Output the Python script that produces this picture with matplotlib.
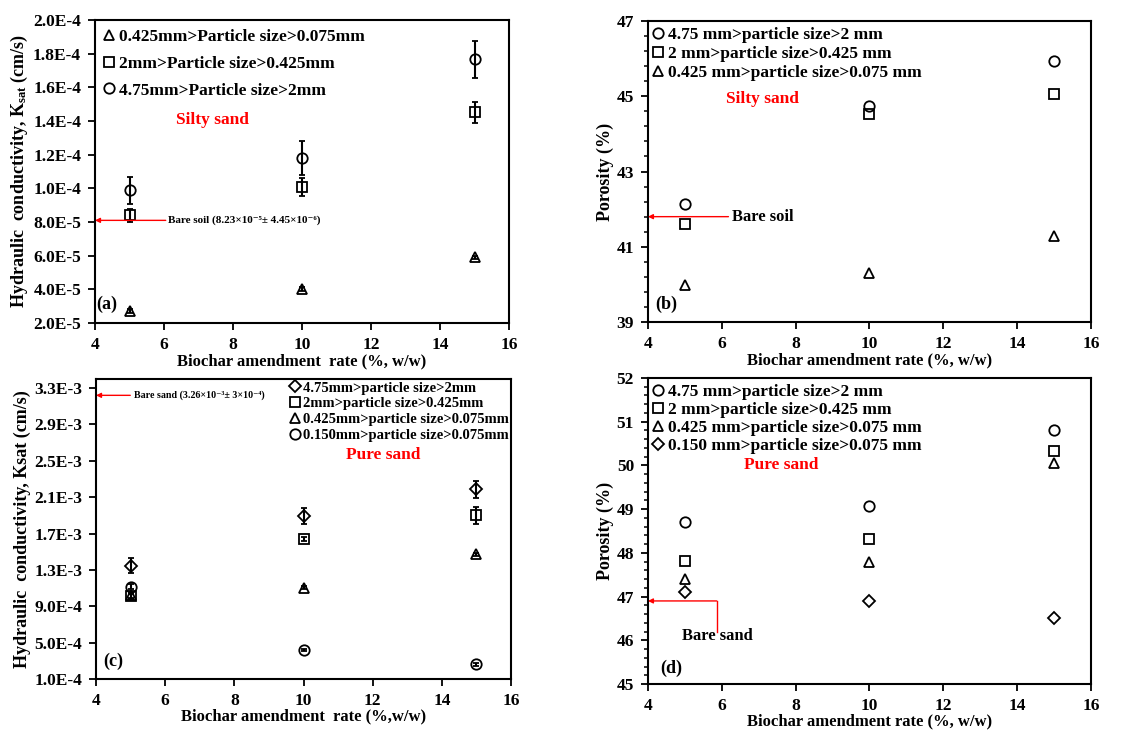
import matplotlib
matplotlib.use("Agg")
import matplotlib.pyplot as plt
from matplotlib.ticker import MultipleLocator, FixedLocator, FuncFormatter

plt.rcParams["font.family"] = ["Liberation Serif", "DejaVu Serif"]
plt.rcParams["font.weight"] = "bold"
plt.rcParams["mathtext.fontset"] = "custom"
plt.rcParams["mathtext.rm"] = "Liberation Serif:bold"
plt.rcParams["mathtext.bf"] = "Liberation Serif:bold"
plt.rcParams["mathtext.it"] = "Liberation Serif:bold"

# ---------- data ----------
rate = [5, 10, 15]

# (a) silty sand Ksat (cm/s)
a_labels = ["0.425mm>Particle size>0.075mm",
            "2mm>Particle size>0.425mm",
            "4.75mm>Particle size>2mm"]
a_tri = [2.71e-5, 4.02e-5, 5.90e-5]
a_tri_err = [1.0e-6, 1.0e-6, 1.0e-6]
a_sq = [8.40e-5, 1.007e-4, 1.451e-4]
a_sq_err = [4.0e-6, 5.5e-6, 6.0e-6]
a_circ = [9.89e-5, 1.181e-4, 1.768e-4]
a_circ_err = [8.0e-6, 1.0e-5, 1.1e-5]
a_bare = 8.1e-5

# (b) silty sand porosity (%)
b_labels = ["4.75 mm>particle size>2 mm",
            "2 mm>particle size>0.425 mm",
            "0.425 mm>particle size>0.075 mm"]
b_circ = [42.14, 44.74, 45.94]
b_sq = [41.61, 44.52, 45.05]
b_tri = [39.98, 40.29, 41.29]
b_bare = 41.8

# (c) pure sand Ksat (cm/s)
c_labels = ["4.75mm>particle size>2mm",
            "2mm>particle size>0.425mm",
            "0.425mm>particle size>0.075mm",
            "0.150mm>particle size>0.075mm"]
c_dia = [1.346e-3, 1.889e-3, 2.186e-3]
c_dia_err = [8.0e-5, 8.8e-5, 9.5e-5]
c_sq = [1.009e-3, 1.643e-3, 1.900e-3]
c_sq_err = [3.0e-5, 2.0e-5, 9.5e-5]
c_tri = [1.02e-3, 1.105e-3, 1.471e-3]
c_tri_err = [3.0e-5, 2.0e-5, 2.0e-5]
c_circ = [1.116e-3, 4.19e-4, 2.61e-4]
c_circ_err = [3.0e-5, 1.5e-5, 1.5e-5]
c_bare = 3.22e-3

# (d) pure sand porosity (%)
d_labels = ["4.75 mm>particle size>2 mm",
            "2 mm>particle size>0.425 mm",
            "0.425 mm>particle size>0.075 mm",
            "0.150 mm>particle size>0.075 mm"]
d_circ = [48.71, 49.07, 50.81]
d_sq = [47.81, 48.31, 50.33]
d_tri = [47.40, 47.80, 50.06]
d_dia = [47.11, 46.90, 46.51]
d_bare = 46.9

MK = dict(mfc="none", mec="black", mew=1.3, ls="none", zorder=3)
SIZE = {"o": 7.5, "s": 7.5, "^": 7.5, "D": 6.3}
EB = dict(fmt="none", ecolor="black", elinewidth=1.5, capsize=2.5,
          capthick=1.3, zorder=2)
FS = 12.5


def excel_e(v, pos):
    s = f"{v:.1E}"
    mant, exp = s.split("E")
    return f"{mant}E{int(exp)}"


def series(ax, y, marker, label, err=None):
    if err is not None:
        ax.errorbar(rate, y, yerr=err, **EB)
    ax.plot(rate, y, marker=marker, ms=SIZE[marker], label=label, **MK)


def style_axes(ax, xlabel, ylabel):
    ax.set_xlim(4, 16)
    ax.xaxis.set_major_locator(MultipleLocator(2))
    for sp in ax.spines.values():
        sp.set_linewidth(1.5)
    ax.tick_params(which="major", direction="out", length=5, width=1.3,
                   labelsize=FS, pad=5)
    ax.tick_params(which="minor", direction="out", length=3, width=1.1)
    ax.set_xlabel(xlabel, fontsize=12, fontweight="bold", labelpad=0)
    ax.set_ylabel(ylabel, fontsize=13, fontweight="bold", labelpad=2)


def legend(ax, x, y, size, spacing, pad=0.25):
    ax.legend(loc="upper left", bbox_to_anchor=(x, y), frameon=False,
              borderaxespad=0, borderpad=0, handlelength=0.6,
              handletextpad=pad, labelspacing=spacing,
              prop=dict(size=size, weight="bold"))


def red_arrow(ax, x0, x1, y):
    ax.annotate("", xy=(x1, y), xytext=(x0, y),
                arrowprops=dict(arrowstyle="-|>", color="red", lw=1.0,
                                mutation_scale=7, shrinkA=0, shrinkB=0))


def tag(ax, x, y, s):
    ax.text(x, y, s, fontsize=13, fontweight="bold", ha="center", va="center")


def red_text(ax, x, y, s):
    ax.text(x, y, s, color="red", fontsize=FS, fontweight="bold",
            ha="center", va="center")


fig = plt.figure(figsize=(11.46, 7.35), dpi=100)

# ---------- (a) ----------
ax = fig.add_axes([0.0829, 0.5605, 0.3613, 0.4122])
series(ax, a_tri, "^", a_labels[0], a_tri_err)
series(ax, a_sq, "s", a_labels[1], a_sq_err)
series(ax, a_circ, "o", a_labels[2], a_circ_err)
ax.set_ylim(2e-5, 2e-4)
ax.yaxis.set_major_locator(MultipleLocator(2e-5))
ax.yaxis.set_major_formatter(FuncFormatter(excel_e))
style_axes(ax, "Biochar amendment  rate (%, w/w)",
           r"Hydraulic  conductivity, K$_{sat}$ (cm/s)")
legend(ax, 0.022, 0.972, FS, 0.62)
red_arrow(ax, 6.05, 4.0, a_bare)
ax.text(6.13, a_bare, "Bare soil (8.23×10⁻⁵± 4.45×10⁻⁶)", fontsize=8,
        fontweight="bold", va="center", ha="left")
red_text(ax, 7.4, 1.405e-4, "Silty sand")
tag(ax, 4.35, 3.09e-5, "(a)")

# ---------- (b) ----------
ax = fig.add_axes([0.5654, 0.5619, 0.3866, 0.4095])
series(ax, b_circ, "o", b_labels[0])
series(ax, b_sq, "s", b_labels[1])
series(ax, b_tri, "^", b_labels[2])
ax.set_ylim(39, 47)
ax.yaxis.set_major_locator(FixedLocator([39, 41, 43, 45, 47]))
ax.yaxis.set_minor_locator(FixedLocator([39 + 0.4 * i for i in range(21)]))
style_axes(ax, "Biochar amendment rate (%, w/w)", "Porosity (%)")
legend(ax, 0.012, 0.98, FS, 0.15)
red_arrow(ax, 6.18, 4.0, b_bare)
ax.text(6.27, b_bare, "Bare soil", fontsize=12, fontweight="bold",
        va="center", ha="left")
red_text(ax, 7.09, 44.93, "Silty sand")
tag(ax, 4.5, 39.48, "(b)")

# ---------- (c) ----------
ax = fig.add_axes([0.0838, 0.0762, 0.3621, 0.4082])
series(ax, c_dia, "D", c_labels[0], c_dia_err)
series(ax, c_sq, "s", c_labels[1], c_sq_err)
series(ax, c_tri, "^", c_labels[2], c_tri_err)
series(ax, c_circ, "o", c_labels[3], c_circ_err)
ax.set_ylim(1e-4, 3.4e-3)
ax.yaxis.set_major_locator(FixedLocator([1e-4 + 4e-4 * i for i in range(9)]))
ax.yaxis.set_major_formatter(FuncFormatter(excel_e))
style_axes(ax, "Biochar amendment  rate (%,w/w)",
           "Hydraulic  conductivity, Ksat (cm/s)")
legend(ax, 0.47, 0.992, 10.5, 0.18, pad=0.2)
red_arrow(ax, 4.99, 4.0, c_bare)
ax.text(5.09, c_bare, "Bare sand (3.26×10⁻³± 3×10⁻⁴)", fontsize=7.2,
        fontweight="bold", va="center", ha="left")
red_text(ax, 12.3, 2.564e-3, "Pure sand")
tag(ax, 4.49, 2.98e-4, "(c)")

# ---------- (d) ----------
ax = fig.add_axes([0.5654, 0.0694, 0.3866, 0.4163])
series(ax, d_circ, "o", d_labels[0])
series(ax, d_sq, "s", d_labels[1])
series(ax, d_tri, "^", d_labels[2])
series(ax, d_dia, "D", d_labels[3])
ax.set_ylim(45, 52)
ax.yaxis.set_major_locator(MultipleLocator(1))
ax.yaxis.set_minor_locator(MultipleLocator(0.2))
style_axes(ax, "Biochar amendment rate (%, w/w)", "Porosity (%)")
legend(ax, 0.012, 0.982, FS, 0.12)
ax.plot([5.86, 5.86], [46.2, d_bare], color="red", lw=1.0)
red_arrow(ax, 5.86, 4.0, d_bare)
ax.text(5.87, 46.1, "Bare sand", fontsize=12, fontweight="bold",
        ha="center", va="center")
red_text(ax, 7.62, 50.0, "Pure sand")
tag(ax, 4.64, 45.36, "(d)")

fig.savefig("out.png", dpi=100)
